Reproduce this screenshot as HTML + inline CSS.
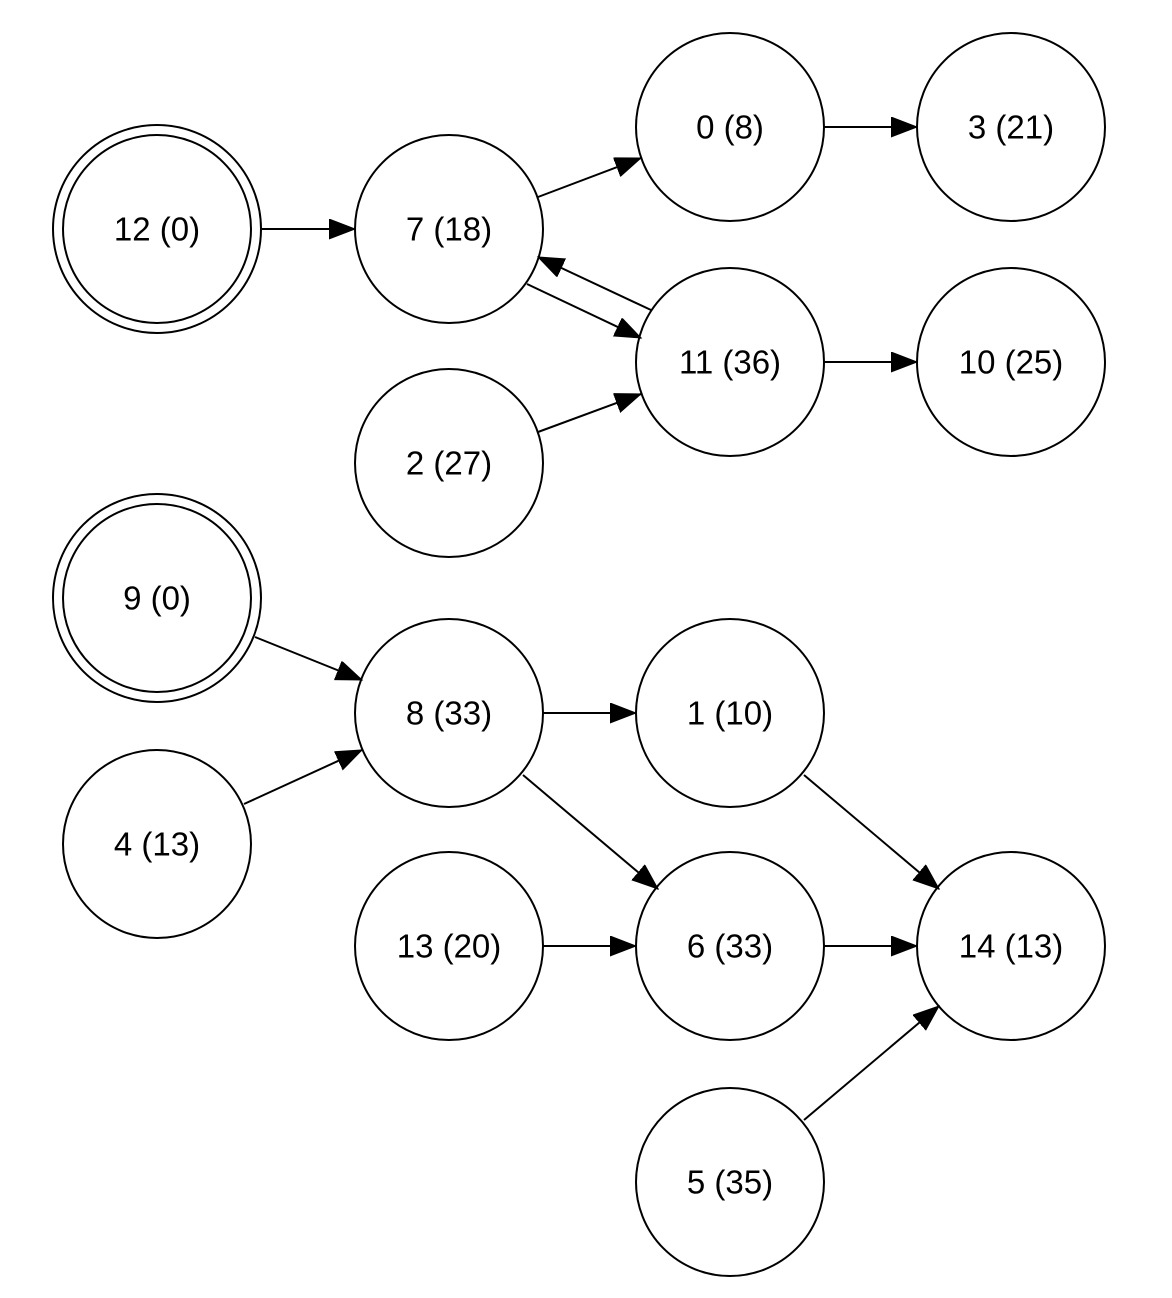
<!DOCTYPE html>
<html><head><meta charset="utf-8"><style>
html,body{margin:0;padding:0;background:#fff;}
svg{display:block;}
text{font-family:"Liberation Sans",sans-serif;font-size:33px;fill:#000;text-anchor:middle;dominant-baseline:central;}
circle{fill:none;stroke:#000;stroke-width:2;}
line{stroke:#000;stroke-width:2;}
</style></head><body>
<svg width="1172" height="1298" viewBox="0 0 1172 1298" xmlns="http://www.w3.org/2000/svg">
<defs><marker id="a" markerUnits="userSpaceOnUse" markerWidth="28" markerHeight="22" refX="26" refY="10" orient="auto"><path d="M0,0 L26,10 L0,20 Z" fill="#000" stroke="#000"/></marker></defs>
<circle cx="157" cy="229" r="104"/><circle cx="157" cy="229" r="94"/><text x="157" y="229">12 (0)</text>
<circle cx="449" cy="229" r="94"/><text x="449" y="229">7 (18)</text>
<circle cx="730" cy="127" r="94"/><text x="730" y="127">0 (8)</text>
<circle cx="1011" cy="127" r="94"/><text x="1011" y="127">3 (21)</text>
<circle cx="730" cy="362" r="94"/><text x="730" y="362">11 (36)</text>
<circle cx="1011" cy="362" r="94"/><text x="1011" y="362">10 (25)</text>
<circle cx="449" cy="463" r="94"/><text x="449" y="463">2 (27)</text>
<circle cx="157" cy="598" r="104"/><circle cx="157" cy="598" r="94"/><text x="157" y="598">9 (0)</text>
<circle cx="449" cy="713" r="94"/><text x="449" y="713">8 (33)</text>
<circle cx="730" cy="713" r="94"/><text x="730" y="713">1 (10)</text>
<circle cx="157" cy="844" r="94"/><text x="157" y="844">4 (13)</text>
<circle cx="449" cy="946" r="94"/><text x="449" y="946">13 (20)</text>
<circle cx="730" cy="946" r="94"/><text x="730" y="946">6 (33)</text>
<circle cx="1011" cy="946" r="94"/><text x="1011" y="946">14 (13)</text>
<circle cx="730" cy="1182" r="94"/><text x="730" y="1182">5 (35)</text>
<line x1="262" y1="229" x2="355" y2="229" marker-end="url(#a)"/>
<line x1="538" y1="197" x2="641" y2="158" marker-end="url(#a)"/>
<line x1="651" y1="310" x2="538" y2="257" marker-end="url(#a)"/>
<line x1="527" y1="284" x2="641" y2="338" marker-end="url(#a)"/>
<line x1="538" y1="432" x2="641" y2="394" marker-end="url(#a)"/>
<line x1="824" y1="127" x2="917" y2="127" marker-end="url(#a)"/>
<line x1="824" y1="362" x2="917" y2="362" marker-end="url(#a)"/>
<line x1="255" y1="637" x2="362" y2="680" marker-end="url(#a)"/>
<line x1="244" y1="804" x2="362" y2="750" marker-end="url(#a)"/>
<line x1="543" y1="713" x2="636" y2="713" marker-end="url(#a)"/>
<line x1="523" y1="775" x2="658" y2="889" marker-end="url(#a)"/>
<line x1="804" y1="775" x2="939" y2="889" marker-end="url(#a)"/>
<line x1="543" y1="946" x2="636" y2="946" marker-end="url(#a)"/>
<line x1="824" y1="946" x2="917" y2="946" marker-end="url(#a)"/>
<line x1="804" y1="1120" x2="939" y2="1006" marker-end="url(#a)"/>
</svg>
</body></html>
